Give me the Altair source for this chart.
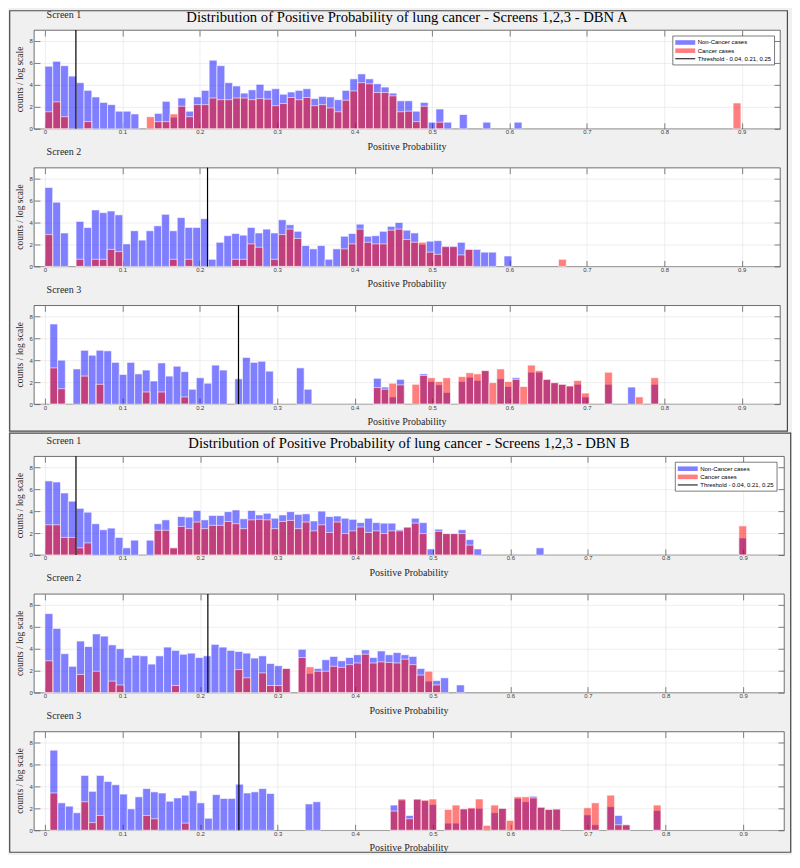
import altair as alt
import pandas as pd

NBINS = 95
XTICKS = [0, 0.1, 0.2, 0.3, 0.4, 0.5, 0.6, 0.7, 0.8, 0.9]
YTICKS = [0, 2, 4, 6, 8]
THRESHOLDS = [0.04, 0.21, 0.25]
SCREENS = ["Screen 1", "Screen 2", "Screen 3"]
TITLES = [
    "Distribution of Positive Probability of lung cancer - Screens 1,2,3 - DBN A",
    "Distribution of Positive Probability of lung cancer - Screens 1,2,3 - DBN B",
]
LEGEND_LABELS = ["Non-Cancer cases", "Cancer cases", "Threshold - 0.04, 0.21, 0.25"]

# ---- DBN A ----
A1_NONCANCER = [5.7, 6.15, 5.75, 4.8, 4.2, 3.5, 2.9, 2.4, 2.2, 1.6,
                1.6, 1.35, 0, 0, 1.4, 2.5, 1.05, 2.8, 1.6, 2.9,
                3.5, 6.25, 5.75, 4.2, 3.9, 3.25, 3.55, 4.05, 3.5, 3.65,
                3.15, 3.35, 3.5, 3.65, 2.75, 2.95, 2.9, 2.65, 3.5, 4.55,
                5.0, 4.55, 4.1, 3.8, 3.25, 2.55, 2.55, 1.6, 2.4, 0.6,
                1.8, 0.6, 0, 1.3, 0, 0, 0.6, 0, 0, 0,
                0.6]
A1_CANCER = [1.55, 2.45, 1.1, 0, 0, 0.65, 0, 0, 0, 0,
             0, 0, 0, 1.1, 0.65, 0.65, 1.35, 2.05, 1.1, 2.2,
             2.2, 2.8, 2.65, 2.65, 2.8, 2.8, 2.65, 2.75, 2.7, 2.1,
             2.3, 2.85, 2.65, 2.85, 2.1, 2.2, 1.9, 1.55, 2.6, 3.45,
             4.2, 4.1, 3.3, 3.3, 3.0, 1.55, 1.6, 0.65, 2.05, 0,
             0.6, 0, 0, 0, 0, 0, 0, 0, 0, 0,
             0, 0, 0, 0, 0, 0, 0, 0, 0, 0,
             0, 0, 0, 0, 0, 0, 0, 0, 0, 0,
             0, 0, 0, 0, 0, 0, 0, 0, 2.35]
A2_NONCANCER = [7.2, 5.85, 3.05, 0, 4.1, 3.55, 5.15, 4.9, 5.05, 4.7,
                2.05, 3.25, 2.4, 3.25, 3.7, 4.75, 3.25, 4.45, 3.55, 3.55,
                4.35, 0.65, 2.2, 2.8, 3.0, 2.85, 3.55, 3.05, 3.4, 3.05,
                4.25, 3.8, 3.2, 1.9, 1.6, 1.9, 0.65, 1.6, 2.75, 3.0,
                3.85, 2.75, 2.8, 3.2, 3.65, 4.0, 3.3, 3.05, 2.0, 2.3,
                2.35, 1.85, 1.85, 2.2, 1.55, 1.55, 1.3, 1.3, 0, 0.95]
A2_CANCER = [2.9, 0, 0, 0, 0.65, 0, 0.65, 0.65, 1.55, 1.35,
             0, 0, 0, 0, 0, 0, 0.65, 0, 0.65, 0,
             0, 0, 0, 0, 0.65, 0.65, 2.05, 1.75, 0, 0.65,
             2.9, 3.4, 2.55, 0, 0, 0, 0, 0, 1.6, 2.05,
             3.4, 2.2, 2.05, 2.05, 3.3, 3.4, 2.45, 2.2, 2.2, 1.3,
             1.1, 1.8, 1.8, 1.05, 1.55, 0, 0, 0, 0, 0,
             0, 0, 0, 0, 0, 0, 0.65]
A3_NONCANCER = [0, 7.3, 4.0, 0, 3.2, 4.9, 4.45, 4.9, 4.85, 3.8,
                2.7, 3.8, 2.75, 3.1, 2.1, 3.75, 2.55, 3.45, 2.95, 1.35,
                2.4, 1.9, 3.55, 3.1, 0, 2.3, 4.25, 3.8, 3.9, 3.0,
                0, 0, 0, 3.3, 1.35, 0, 0, 0, 0, 0,
                0, 0, 0, 2.35, 1.55, 0.65, 2.25, 0, 0, 2.75,
                2.05, 1.75, 1.05, 0, 2.05, 2.45, 2.15, 3.05, 0, 2.3,
                1.6, 2.4, 0, 2.9, 2.9, 2.25, 1.95, 1.8, 1.65, 1.8,
                0.65, 0, 0, 1.8, 0, 0, 1.55, 0, 0, 1.8]
A3_CANCER = [0, 3.3, 1.4, 0, 0, 2.55, 0, 1.8, 0, 0,
             0, 0, 0, 1.1, 0, 1.1, 0, 0, 0.65, 0,
             0, 0, 0, 0, 0, 0, 0, 0, 0, 0,
             0, 0, 0, 0, 0, 0, 0, 0, 0, 0,
             0, 0, 0, 1.5, 1.35, 1.9, 1.75, 0, 1.8, 2.6,
             2.4, 2.05, 2.4, 0, 2.5, 2.85, 2.75, 3.05, 1.95, 3.2,
             2.05, 2.25, 1.6, 3.55, 3.05, 2.25, 1.95, 1.8, 1.65, 2.15,
             1.0, 0, 0, 2.9, 0, 0, 0, 0.65, 0, 2.4]

# ---- DBN B ----
B1_NONCANCER = [6.75, 6.65, 5.65, 4.9, 4.25, 3.9, 2.85, 2.3, 2.45, 1.6,
                0.65, 1.35, 0, 1.35, 2.85, 3.2, 0.65, 3.5, 3.45, 4.05,
                3.2, 3.6, 3.6, 3.95, 4.1, 3.3, 4.05, 3.65, 3.8, 3.35,
                3.65, 3.95, 3.7, 3.75, 3.1, 4.0, 3.5, 3.55, 3.35, 3.25,
                2.95, 3.35, 2.95, 2.9, 2.9, 2.3, 2.5, 3.35, 2.95, 0.55,
                2.35, 1.95, 1.95, 2.3, 1.4, 0.55, 0, 0, 0, 0,
                0, 0, 0, 0.65, 0, 0, 0, 0, 0, 0,
                0, 0, 0, 0, 0, 0, 0, 0, 0, 0,
                0, 0, 0, 0, 0, 0, 0, 0, 0, 1.55]
B1_CANCER = [2.75, 2.75, 1.6, 1.6, 0.65, 1.1, 0, 0, 0, 0,
             0, 0, 0, 0, 2.25, 2.25, 0.65, 2.6, 2.4, 3.0,
             2.4, 2.7, 2.7, 3.05, 2.85, 2.4, 3.2, 3.25, 3.2, 2.4,
             3.05, 3.15, 2.4, 3.0, 2.2, 2.75, 2.05, 3.0, 1.95, 2.2,
             2.55, 2.05, 2.2, 1.95, 2.2, 2.2, 2.55, 2.9, 1.95, 0,
             2.15, 1.95, 1.95, 1.95, 0.9, 0, 0, 0, 0, 0,
             0, 0, 0, 0, 0, 0, 0, 0, 0, 0,
             0, 0, 0, 0, 0, 0, 0, 0, 0, 0,
             0, 0, 0, 0, 0, 0, 0, 0, 0, 2.65]
B2_NONCANCER = [7.2, 5.85, 3.55, 2.4, 4.7, 4.2, 5.35, 5.15, 4.35, 4.0,
                3.2, 3.4, 3.35, 2.6, 3.35, 4.15, 3.85, 3.5, 3.6, 3.2,
                3.35, 4.4, 4.15, 3.85, 3.75, 3.6, 3.15, 3.35, 2.65, 2.45,
                2.2, 0, 3.95, 1.75, 2.2, 3.0, 3.3, 2.9, 3.2, 3.45,
                3.9, 3.2, 3.8, 3.45, 3.65, 3.45, 3.3, 2.2, 1.05, 1.1,
                1.35, 0, 0.7]
B2_CANCER = [2.9, 0, 0, 0, 1.65, 0, 1.95, 0, 1.05, 0.7,
             0, 0, 0, 0, 0, 0, 0.65, 0, 0, 0,
             0, 0, 0, 0, 2.1, 1.35, 0, 1.8, 0.65, 0.65,
             2.2, 0, 3.2, 2.35, 1.95, 1.95, 2.4, 2.3, 2.55, 2.7,
             3.5, 2.7, 2.8, 2.75, 2.7, 3.05, 2.55, 1.6, 1.95, 0.7]
B3_NONCANCER = [0, 7.3, 2.5, 2.2, 1.6, 5.0, 3.55, 5.0, 4.45, 4.15,
                3.3, 1.95, 3.05, 3.8, 3.5, 3.4, 2.65, 2.95, 3.2, 3.6,
                2.5, 1.1, 3.25, 2.9, 2.9, 4.2, 3.4, 3.5, 3.8, 3.35,
                0, 0, 0, 0, 2.4, 2.6, 0, 0, 0, 0,
                0, 0, 0, 0, 0, 2.3, 2.75, 1.35, 2.8, 2.7,
                2.35, 0, 0.65, 0.65, 1.95, 2.0, 2.0, 0, 1.6, 2.0,
                0, 2.9, 2.6, 3.1, 2.1, 1.9, 1.9, 0, 0, 0,
                1.4, 0.5, 0, 2.15, 1.35, 0.5, 0, 0, 0, 1.8]
B3_CANCER = [0, 3.4, 0, 0, 0, 2.6, 0.7, 1.35, 0, 0,
             0, 0, 0, 1.35, 1.05, 0, 0, 0, 0.65, 0,
             0, 0, 0, 0, 0, 0, 0, 0, 0, 0,
             0, 0, 0, 0, 0, 0, 0, 0, 0, 0,
             0, 0, 0, 0, 0, 1.75, 2.85, 1.05, 2.85, 2.75,
             2.85, 0, 1.9, 2.3, 1.95, 2.05, 2.85, 0.45, 2.3, 2.0,
             0.9, 3.05, 3.05, 2.95, 2.1, 1.9, 1.95, 0, 0, 0,
             2.05, 2.5, 0, 3.2, 0.5, 0.5, 0, 0, 0, 2.3]

# histogram bin origin / width of each subplot (A1, A2, A3, B1, B2, B3)
BIN_START = [0.0, 0.0, -0.0035, 0.0, 0.0, -0.0035]
BIN_WIDTH = [0.0101, 0.01005, 0.00995, 0.01005, 0.0102, 0.00997]

BLUE = "#0000ff"
RED = "#ff0000"
SERIF = "Liberation Serif"
SANS = "Liberation Sans"
H = 99
SPACING = 39


def hist_df(vals, start, bw):
    rows = [(start + k * bw, start + (k + 1) * bw, v) for k, v in enumerate(vals) if v > 0]
    return pd.DataFrame(rows, columns=["x0", "x1", "v"])


ONE = pd.DataFrame({"z": [0]})


def subplot(blue, red, start, bw, thr, screen, width, xmax, title=None, legend_left=None, border=None):
    xs = alt.Scale(domain=[-0.0142, xmax], nice=False, zero=False)
    ys = alt.Scale(domain=[0, 9], nice=False)
    ax_bottom = alt.Axis(orient="bottom", values=XTICKS, format=".1~f", offset=-6, tickSize=6,
                         domain=False, grid=True, gridColor="#e2e2e2", gridWidth=0.6,
                         labelPadding=0, labelFont=SANS, labelFontSize=6, labelColor="#404040",
                         tickColor="#333333", tickWidth=0.6, labelFlush=False, title=None)
    ax_left = alt.Axis(orient="left", values=YTICKS, format="d", offset=-6, tickSize=6,
                       domain=False, grid=True, gridColor="#e2e2e2", gridWidth=0.6,
                       labelPadding=1.5, labelFont=SANS, labelFontSize=6, labelColor="#404040",
                       tickColor="#333333", tickWidth=0.6, title=None)
    ax_top = alt.Axis(orient="top", values=XTICKS, offset=-6, tickSize=6, labels=False,
                      domain=False, grid=False, tickColor="#333333", tickWidth=0.6, title=None)
    ax_right = alt.Axis(orient="right", values=YTICKS, offset=-6, tickSize=6, labels=False,
                        domain=False, grid=False, tickColor="#333333", tickWidth=0.6, title=None)

    layers = []
    if border is not None:
        layers.append(alt.Chart(ONE).mark_rect(filled=False, color="#4a4a4a", strokeWidth=1.2).encode(
            x=alt.value(border[0]), x2=alt.value(border[1]),
            y=alt.value(border[2]), y2=alt.value(border[3])))
    layers.append(alt.Chart(hist_df(blue, start, bw)).mark_rect(
        fill=BLUE, fillOpacity=0.5, stroke="white", strokeWidth=0.6).encode(
        x=alt.X("x0:Q", scale=xs, axis=ax_bottom), x2="x1:Q",
        y=alt.Y("v:Q", scale=ys, axis=ax_left), y2=alt.datum(0)))
    layers.append(alt.Chart(hist_df(red, start, bw)).mark_rect(
        fill=RED, fillOpacity=0.5, stroke="white", strokeWidth=0.6).encode(
        x=alt.X("x0:Q", scale=xs, axis=ax_top), x2="x1:Q",
        y=alt.Y("v:Q", scale=ys, axis=ax_right), y2=alt.datum(0)))
    layers.append(alt.Chart(pd.DataFrame({"t": [thr]})).mark_rule(color="black", strokeWidth=1.2).encode(
        x=alt.X("t:Q", scale=xs, axis=None)))
    # texts
    layers.append(alt.Chart(ONE).mark_text(text=screen, font=SERIF, fontSize=10, align="left",
                                           baseline="middle", color="#262626").encode(
        x=alt.value(12.7), y=alt.value(-15.5)))
    layers.append(alt.Chart(ONE).mark_text(text="Positive Probability", font=SERIF, fontSize=10,
                                           align="center", baseline="middle", color="#262626").encode(
        x=alt.value(width / 2), y=alt.value(H + 18)))
    layers.append(alt.Chart(ONE).mark_text(text="counts / log scale", font=SERIF, fontSize=9.5, angle=270,
                                           align="center", baseline="middle", color="#262626").encode(
        x=alt.value(-14), y=alt.value(H / 2)))
    if title is not None:
        layers.append(alt.Chart(ONE).mark_text(text=title, font=SERIF, fontSize=14.7, align="center",
                                               baseline="middle", color="#000000").encode(
            x=alt.value(width / 2), y=alt.value(-12.3)))
    if legend_left is not None:
        L = legend_left
        layers.append(alt.Chart(ONE).mark_rect(fill="white", stroke="#262626", strokeWidth=0.6).encode(
            x=alt.value(L), x2=alt.value(L + 102), y=alt.value(6), y2=alt.value(35)))
        layers.append(alt.Chart(ONE).mark_rect(fill=BLUE, fillOpacity=0.5).encode(
            x=alt.value(L + 2.5), x2=alt.value(L + 22.5), y=alt.value(10.2), y2=alt.value(14.8)))
        layers.append(alt.Chart(ONE).mark_rect(fill=RED, fillOpacity=0.5).encode(
            x=alt.value(L + 2.5), x2=alt.value(L + 22.5), y=alt.value(18.4), y2=alt.value(23)))
        layers.append(alt.Chart(ONE).mark_rule(color="black", strokeWidth=1).encode(
            x=alt.value(L + 2.5), x2=alt.value(L + 22.5), y=alt.value(28.8)))
        for i, lab in enumerate(LEGEND_LABELS):
            layers.append(alt.Chart(ONE).mark_text(text=lab, font=SANS, fontSize=6, align="left",
                                                   baseline="middle", color="#000000").encode(
                x=alt.value(L + 25), y=alt.value(12.5 + 8.2 * i)))
    return alt.layer(*layers).resolve_axis(x="independent", y="independent").properties(
        width=width, height=H)


def group(blues, reds, idx0, width, xmax, title, legend_left, border):
    charts = []
    for i in range(3):
        charts.append(subplot(blues[i], reds[i], BIN_START[idx0 + i], BIN_WIDTH[idx0 + i],
                              THRESHOLDS[i], SCREENS[i], width, xmax,
                              title=title if i == 0 else None,
                              legend_left=legend_left if i == 0 else None,
                              border=border if i == 0 else None))
    return alt.vconcat(*charts, spacing=SPACING, bounds="flush")


gA = group([A1_NONCANCER, A2_NONCANCER, A3_NONCANCER], [A1_CANCER, A2_CANCER, A3_CANCER],
           0, 748, 0.9494, TITLES[0], 640.5, (-24.3, 755.4, -19.3, 402.2))
gB = group([B1_NONCANCER, B2_NONCANCER, B3_NONCANCER], [B1_CANCER, B2_CANCER, B3_CANCER],
           3, 752, 0.9527, TITLES[1], 643, (-24.3, 758.7, -23.2, 397))

chart = alt.vconcat(gA, gB, spacing=-1.7, bounds="full").properties(
    padding=0, background="#f0f0f0"
).configure_view(fill="white", stroke="#333333", strokeWidth=0.7)

chart.save("out.html", embed_options={"renderer": "svg", "actions": False})
